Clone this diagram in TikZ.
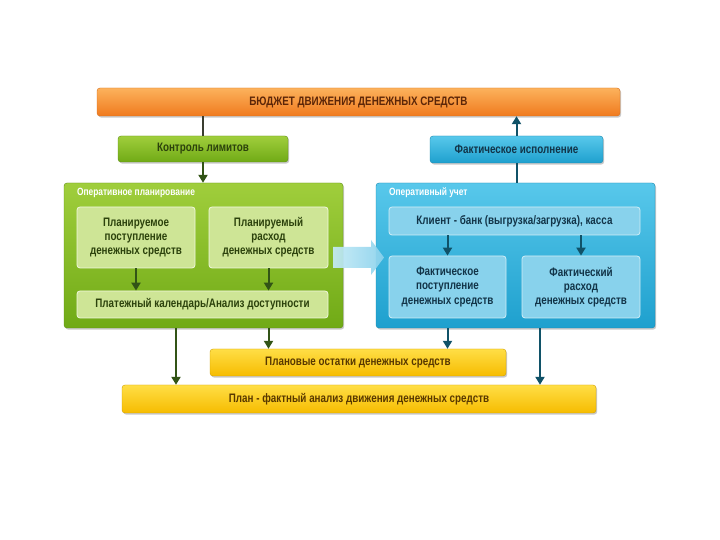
\documentclass[tikz,border=0pt]{standalone}
\usepackage{fontspec}
\setmainfont{Liberation Sans}[FakeStretch=0.8]
\usetikzlibrary{arrows.meta,calc,positioning,shapes.arrows,shadows}
\definecolor{budgettop}{RGB}{252,178,92}
\definecolor{budgetbot}{RGB}{240,122,30}
\definecolor{budgetink}{RGB}{92,38,8}
\definecolor{plantop}{RGB}{160,206,60}
\definecolor{planbot}{RGB}{112,170,22}
\definecolor{planinner}{RGB}{206,229,150}
\definecolor{planink}{RGB}{44,66,12}
\definecolor{plandark}{RGB}{50,84,22}
\definecolor{facttop}{RGB}{88,200,235}
\definecolor{factbot}{RGB}{30,160,206}
\definecolor{factinner}{RGB}{136,210,236}
\definecolor{factink}{RGB}{18,52,72}
\definecolor{factdark}{RGB}{16,82,104}
\definecolor{resttop}{RGB}{255,222,70}
\definecolor{restbot}{RGB}{246,188,0}
\definecolor{restink}{RGB}{88,56,0}
\definecolor{flowcyan}{RGB}{196,234,246}
\definecolor{flowcyandark}{RGB}{138,210,236}
\definecolor{linkgray}{RGB}{58,62,48}

\begin{document}
\begin{tikzpicture}[
  x=1pt, y=1pt,
  font=\bfseries\fontsize{12.3}{14.2}\selectfont,
  boxshadow/.style={drop shadow={shadow xshift=1.2pt, shadow yshift=-1.6pt, opacity=0.35, fill=black!60}},
  bar/.style={boxshadow, rounded corners=3pt, align=center, inner sep=0pt},
  budgetbar/.style={bar, top color=budgettop, bottom color=budgetbot, draw=budgetbot!90!black, text=budgetink},
  planbar/.style={bar, top color=plantop, bottom color=planbot, draw=planbot!85!black, text=planink},
  factbar/.style={bar, top color=facttop, bottom color=factbot, draw=factbot!85!black, text=factink},
  restbar/.style={bar, top color=resttop, bottom color=restbot, draw=restbot!85!black, text=restink},
  planinbox/.style={rounded corners=3pt, fill=planinner, draw=white!70!planinner, line width=0.8pt, text=planink, align=center, inner sep=0pt},
  factinbox/.style={rounded corners=3pt, fill=factinner, draw=white!60!factinner, line width=0.8pt, text=factink, align=center, inner sep=0pt},
  paneltitle/.style={font=\bfseries\fontsize{10.5}{12}\selectfont, text=white, anchor=north west, inner sep=0pt},
  planarrow/.style={-{Triangle[length=8pt, width=9pt]}, line width=2pt, plandark},
  factarrow/.style={-{Triangle[length=8pt, width=9pt]}, line width=2pt, factdark},
  link/.style={line width=2pt, linkgray},
]
\useasboundingbox[fill=white] (0,0) rectangle (720,540);

% -------------------------------------------------------------------------
% Top level: budget and its two controlling bars.
% -------------------------------------------------------------------------
\node[budgetbar, minimum width=523pt, minimum height=28pt] (budget) at (358.5,438)
  {БЮДЖЕТ ДВИЖЕНИЯ ДЕНЕЖНЫХ СРЕДСТВ};
\node[planbar, minimum width=170pt, minimum height=26pt] (limits) at (203,391)
  {Контроль лимитов};
\node[factbar, minimum width=173pt, minimum height=27pt] (execution) at (516.5,390.5)
  {Фактическое исполнение};

% -------------------------------------------------------------------------
% Left panel: operational planning.
% -------------------------------------------------------------------------
\node[planbar, minimum width=279pt, minimum height=145pt] (planning) at (203.5,284.5) {};
\node[paneltitle] (planningtitle) at ([xshift=13pt,yshift=-5pt]planning.north west)
  {Оперативное планирование};
\node[planinbox, minimum width=118pt, minimum height=61pt] (planin) at (136,302.5)
  {Планируемое\\поступление\\денежных средств};
\node[planinbox, minimum width=119pt, minimum height=61pt] (planout) at (268.5,302.5)
  {Планируемый\\расход\\денежных средств};
\node[planinbox, minimum width=251pt, minimum height=27pt] (calendar) at (202.5,235.5)
  {Платежный календарь/Анализ доступности};

% -------------------------------------------------------------------------
% Right panel: operational accounting.
% -------------------------------------------------------------------------
\node[factbar, minimum width=279pt, minimum height=145pt] (accounting) at (515.5,284.5) {};
\node[paneltitle] (accountingtitle) at ([xshift=13pt,yshift=-5pt]accounting.north west)
  {Оперативный учет};
\node[factinbox, minimum width=251pt, minimum height=28pt] (bank) at (514.5,319)
  {Клиент - банк (выгрузка/загрузка), касса};
\node[factinbox, minimum width=117pt, minimum height=62pt] (factin) at (447.5,253)
  {Фактическое\\поступление\\денежных средств};
\node[factinbox, minimum width=118pt, minimum height=62pt] (factout) at (581,253)
  {Фактический\\расход\\денежных средств};

% Hand-over between the panels: a wide pale arrow.
\shade[left color=flowcyan, right color=flowcyandark, opacity=0.92]
  (333,293) -- (371,293) -- (371,300) -- (384,282.5) -- (371,265)
  -- (371,272) -- (333,272) -- cycle;

% -------------------------------------------------------------------------
% Bottom level: balances and plan/fact analysis.
% -------------------------------------------------------------------------
\node[restbar, minimum width=296pt, minimum height=27pt] (balances) at (358,177.5)
  {Плановые остатки денежных средств};
\node[restbar, minimum width=474pt, minimum height=28pt] (analysis) at (359,141)
  {План - фактный анализ движения денежных средств};

% Connectors.
\draw[link] (budget.south -| limits) -- (limits.north);
\draw[planarrow] (limits.south) -- (planning.north -| limits);
\draw[link, factdark] (accounting.north -| execution) -- (execution.south);
\draw[factarrow] (execution.north) -- (budget.south -| execution);

\draw[planarrow] (planin.south) -- (calendar.north -| planin);
\draw[planarrow] (planout.south) -- (calendar.north -| planout);
\draw[factarrow] (bank.south -| factin) -- (factin.north);
\draw[factarrow] (bank.south -| factout) -- (factout.north);

\coordinate (planleft) at ([xshift=-27.5pt]planning.south);
\coordinate (factright) at ([xshift=24.5pt]accounting.south);
\draw[planarrow] (planleft) -- (analysis.north -| planleft);
\draw[planarrow] (planning.south -| planout) -- (balances.north -| planout);
\draw[factarrow] (accounting.south -| factin) -- (balances.north -| factin);
\draw[factarrow] (factright) -- (analysis.north -| factright);

\end{tikzpicture}
\end{document}
